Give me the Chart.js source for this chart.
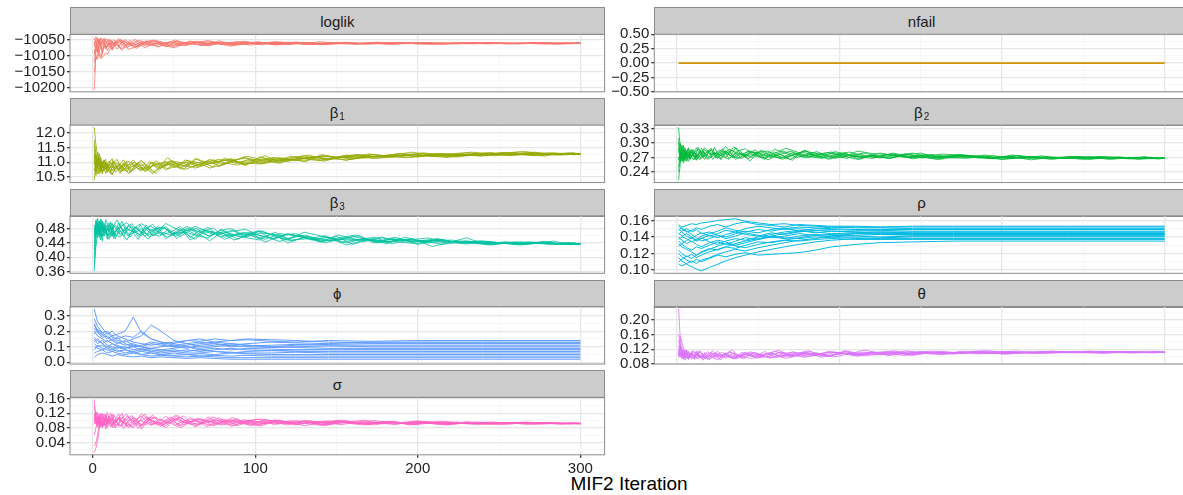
<!DOCTYPE html>
<html>
<head>
<meta charset="utf-8">
<script src="https://cdn.jsdelivr.net/npm/chart.js@4.4.1/dist/chart.umd.min.js"></script>
<style>
  html, body { margin: 0; padding: 0; background: #fff; overflow: hidden; width: 1183px; height: 495px; }
  #wrap { position: relative; width: 1200px; height: 495px; font-family: "Liberation Sans", Arial, sans-serif; }
  canvas.pan { position: absolute; left: 0; top: 0; }
  .strip { position: absolute; box-sizing: border-box; background: #cccccc; border: 1px solid #8c8c8c;
           color: #1a1a1a; font-size: 15px; display: flex; align-items: center; justify-content: center; }
  .strip .sub { display: inline-block; font-size: 10px; position: relative; top: 4px; margin-left: 1px; }
  #xtitle { position: absolute; left: 529px; width: 200px; top: 473px; text-align: center;
            font-size: 19px; color: #000; }
</style>
</head>
<body>
<div id="wrap"><div id="xtitle">MIF2 Iteration</div></div>
<script>
// MIF2 iteration grids the runs were sampled on
const iterA = [1,2,3,4,5,6,7,8, 10,12,14,17,20, 24,28,32,37,42, 48,54,60,67,74, 81,89,97,106,115, 125,135,145,156,167, 178,189,200,212,224, 236,248,260,272,284, 292,300];
const iterB = [1,2,3,4,5,6,7,9, 11,13,16,19,22, 26,30,35,40,45, 51,57,64,71,78, 85,93,102,111,120, 130,140,151,162,173, 184,195,206,218,230, 242,254,266,278,288, 296,300];
const iterC = [1,2,3,4,5,6,8,9, 11,12,15,18,21, 23,27,30,34,39, 44,49,56,63,70, 77,86,94,103,112, 120,131,141,150,160, 170,181,192,203,215, 227,239,251,263,275, 287,300];
const iterD = [1,2,3,4,5,7,8,10, 12,13,16,17,21, 25,29,33,36,41, 46,52,58,65,72, 79,87,95,104,113, 122,133,143,153,164, 175,186,197,209,221, 233,245,257,269,281, 294,300];
const iterSlow = [1,3,6,9,12,15,20,25,30,36,42,50,58,66,75,85,95,110,125,145,170,200,240,300];
const iterFlat = [1,300];

// axis tick labels
const xTicks = [0,100,200,300];
const loglikTicks = [-10200,-10150,-10100,-10050];
const nfailTicks = [-0.5,-0.25,0,0.25,0.5];
const beta1Ticks = [10.5,11.0,11.5,12.0];
const beta2Ticks = [0.24,0.27,0.30,0.33];
const beta3Ticks = [0.36,0.40,0.44,0.48];
const rhoTicks = [0.10,0.12,0.14,0.16];
const phiTicks = [0.0,0.1,0.2,0.3];
const thetaTicks = [0.08,0.12,0.16,0.20];
const sigmaTicks = [0.04,0.08,0.12,0.16];

// log-likelihood traces
const loglikRuns = [
  [-10205,-10090,-10060,-10048,-10055, -10062,-10050,-10058,-10047,-10066, -10052,-10060,-10049,-10063,-10055, -10068,-10052,-10061,-10056,-10065, -10053,-10062,-10057,-10064,-10055, -10061,-10058,-10063,-10056,-10062, -10059,-10057,-10063,-10058,-10061, -10060,-10058,-10062,-10059,-10061, -10060,-10058,-10061,-10059,-10060],
  [-10150,-10100,-10110,-10085,-10070, -10095,-10060,-10072,-10050,-10064, -10045,-10070,-10058,-10075,-10053, -10066,-10060,-10071,-10054,-10068, -10058,-10064,-10052,-10066,-10057, -10063,-10055,-10062,-10058,-10065, -10057,-10061,-10059,-10063,-10058, -10062,-10059,-10061,-10058,-10062, -10060,-10059,-10061,-10060,-10059],
  [-10045,-10058,-10075,-10095,-10108, -10080,-10065,-10052,-10070,-10055, -10078,-10057,-10066,-10050,-10072, -10058,-10067,-10052,-10063,-10056, -10066,-10055,-10061,-10058,-10066, -10056,-10062,-10059,-10064,-10057, -10062,-10060,-10058,-10063,-10059, -10061,-10060,-10062,-10058,-10061, -10059,-10061,-10060,-10061,-10059],
  [-10060,-10048,-10042,-10065,-10055, -10047,-10075,-10058,-10080,-10062, -10055,-10048,-10074,-10061,-10068, -10051,-10064,-10058,-10070,-10055, -10062,-10057,-10067,-10055,-10061, -10058,-10065,-10056,-10061,-10059, -10064,-10058,-10060,-10057,-10062, -10059,-10061,-10060,-10062,-10059, -10061,-10060,-10059,-10061,-10060],
  [-10080,-10110,-10095,-10072,-10060, -10088,-10068,-10078,-10058,-10082, -10062,-10074,-10056,-10068,-10060, -10074,-10062,-10057,-10069,-10060, -10055,-10068,-10059,-10062,-10060, -10066,-10058,-10062,-10057,-10060, -10063,-10059,-10061,-10060,-10058, -10062,-10061,-10059,-10061,-10060, -10062,-10060,-10061,-10059,-10061],
  [-10050,-10040,-10055,-10046,-10068, -10052,-10044,-10063,-10049,-10058, -10070,-10053,-10062,-10048,-10060, -10054,-10072,-10059,-10050,-10062, -10058,-10051,-10063,-10060,-10054, -10060,-10062,-10057,-10063,-10060, -10058,-10062,-10059,-10061,-10060, -10058,-10062,-10060,-10059,-10061, -10060,-10062,-10059,-10060,-10060],
  [-10120,-10075,-10050,-10085,-10100, -10105,-10090,-10095,-10075,-10068, -10060,-10082,-10064,-10058,-10076, -10062,-10055,-10066,-10061,-10072, -10059,-10063,-10068,-10058,-10063, -10061,-10057,-10065,-10060,-10063, -10061,-10058,-10062,-10060,-10063, -10060,-10059,-10062,-10060,-10061, -10059,-10061,-10060,-10062,-10060],
  [-10070,-10052,-10088,-10064,-10046, -10058,-10071,-10069,-10054,-10049, -10063,-10077,-10070,-10057,-10051, -10060,-10066,-10070,-10061,-10053, -10059,-10064,-10066,-10060,-10056, -10057,-10060,-10065,-10063,-10058, -10060,-10062,-10060,-10057,-10059, -10061,-10063,-10060,-10058,-10060, -10061,-10059,-10058,-10060,-10061],
  [-10095,-10062,-10047,-10053,-10078, -10069,-10057,-10046,-10052,-10074, -10068,-10049,-10055,-10067,-10071, -10063,-10050,-10055,-10064,-10067, -10062,-10056,-10055,-10061,-10065, -10062,-10059,-10056,-10059,-10064, -10062,-10060,-10061,-10059,-10057, -10060,-10062,-10061,-10059,-10058, -10060,-10061,-10062,-10060,-10059],
  [-10055,-10085,-10068,-10058,-10043, -10049,-10062,-10083,-10066,-10060, -10051,-10057,-10079,-10072,-10059, -10052,-10057,-10069,-10074,-10058, -10054,-10060,-10062,-10069,-10061, -10055,-10064,-10060,-10061,-10055, -10060,-10063,-10058,-10062,-10061, -10059,-10060,-10058,-10062,-10060, -10059,-10060,-10062,-10061,-10060]
];

// number of filtering failures
const nfailRuns = [[0,0]];

// beta_1 traces
const beta1Runs = [
  [12.18,11.60,11.20,10.95,10.80,10.70,10.85,10.75, 10.95,10.70,10.88,10.62,10.92, 10.75,10.98,10.68,10.90,10.80, 10.95,10.78,11.02,10.88,10.98, 11.08,10.95,11.12,10.99,11.15, 11.05,11.20,11.10,11.24,11.14, 11.22,11.28,11.18,11.25,11.21, 11.30,11.24,11.29,11.22,11.31, 11.26,11.29],
  [10.39,11.00,11.35,11.10,10.90,10.60,10.95,10.65, 10.85,11.05,10.72,10.98,10.60, 10.88,10.70,11.02,10.78,10.95, 10.82,11.08,10.90,11.05,10.86, 11.00,11.18,10.96,11.10,11.02, 11.22,11.08,11.18,11.12,11.27, 11.16,11.24,11.30,11.20,11.27, 11.23,11.32,11.26,11.21,11.30, 11.25,11.28],
  [11.75,11.30,10.80,11.05,10.65,10.90,11.10,10.80, 10.62,10.90,11.10,10.75,11.00, 10.64,10.88,10.95,10.72,11.05, 10.88,10.96,10.76,11.12,10.95, 11.02,11.10,10.88,11.18,11.06, 11.12,11.02,11.26,11.16,11.20, 11.28,11.18,11.23,11.32,11.24, 11.27,11.20,11.33,11.26,11.24, 11.30,11.27],
  [11.20,10.80,10.60,10.75,11.00,10.78,10.62,10.95, 11.12,10.80,10.95,10.66,10.85, 11.08,10.82,10.70,10.98,10.86, 11.15,10.92,11.00,10.84,11.10, 10.94,11.05,11.20,11.08,10.98, 11.16,11.24,11.08,11.18,11.14, 11.20,11.26,11.34,11.22,11.26, 11.34,11.28,11.22,11.30,11.27, 11.32,11.28],
  [11.45,11.05,10.90,10.70,11.15,10.85,10.72,11.00, 10.80,10.58,10.82,10.92,10.70, 10.94,10.78,10.85,10.60,10.92, 11.05,10.86,10.94,11.00,10.84, 11.14,11.00,11.06,11.12,10.96, 11.18,11.14,11.20,11.06,11.22, 11.18,11.24,11.20,11.30,11.26, 11.22,11.28,11.25,11.34,11.27, 11.29,11.26],
  [10.95,11.25,11.05,10.85,10.70,11.02,10.88,10.78, 10.98,10.74,10.88,11.08,10.80, 10.92,11.05,10.80,10.96,10.74, 10.98,10.84,11.12,10.96,11.02, 11.12,10.92,11.04,11.16,11.10, 11.04,11.20,11.16,11.26,11.18, 11.24,11.16,11.22,11.28,11.32, 11.26,11.30,11.36,11.28,11.26, 11.30,11.27],
  [11.05,10.55,10.95,11.20,10.82,10.66,10.79,10.93, 10.70,10.84,10.98,10.88,10.67, 10.82,10.91,11.06,10.85,10.62, 10.90,11.04,10.97,10.80,10.92, 11.10,11.03,10.92,11.05,11.14, 11.08,11.12,11.22,11.18,11.10, 11.26,11.22,11.15,11.24,11.29, 11.22,11.26,11.31,11.35,11.28, 11.24,11.28],
  [11.60,11.10,10.72,10.60,10.88,11.08,10.92,10.70, 10.58,10.68,10.86,10.78,11.04, 10.96,10.72,10.78,11.00,10.92, 10.78,10.86,11.06,10.99,10.80, 10.90,11.08,11.14,10.94,11.06, 11.20,11.09,11.04,11.20,11.25, 11.16,11.20,11.28,11.19,11.23, 11.28,11.33,11.24,11.26,11.32, 11.27,11.29],
  [10.70,10.95,10.82,11.30,11.08,10.80,11.02,10.86, 11.04,10.94,10.66,10.84,10.94, 10.70,10.86,10.92,10.66,10.82, 11.02,10.92,10.84,10.92,11.08, 10.98,10.90,11.02,11.22,11.00, 11.10,11.16,11.12,11.08,11.16, 11.20,11.30,11.24,11.21,11.18, 11.25,11.22,11.28,11.31,11.25, 11.28,11.30],
  [11.30,10.65,11.15,10.92,10.76,10.94,11.06,10.68, 10.88,11.00,10.76,10.70,10.90, 11.00,10.76,10.84,10.94,11.02, 10.86,10.76,10.90,11.04,10.88, 11.05,10.98,10.94,11.02,11.08, 11.14,11.06,11.14,11.22,11.12, 11.18,11.25,11.22,11.16,11.24, 11.30,11.25,11.27,11.24,11.29, 11.31,11.27]
];

// beta_2 traces
const beta2Runs = [
  [.332,.290,.262,.278,.270,.284,.268,.276, .286,.270,.279,.266,.283, .272,.288,.268,.280,.274, .276,.266,.281,.271,.279, .270,.277,.268,.274,.279, .271,.276,.267,.273,.270, .268,.273,.266,.271,.269, .270,.267,.271,.268,.269, .268,.269],
  [.223,.255,.280,.265,.285,.270,.262,.281, .268,.291,.273,.284,.266, .282,.270,.292,.275,.263, .283,.274,.268,.280,.272, .278,.266,.275,.272,.268, .276,.270,.274,.268,.275, .271,.267,.272,.265,.270, .268,.271,.266,.270,.268, .267,.268],
  [.300,.275,.292,.268,.280,.262,.286,.271, .279,.264,.289,.275,.270, .291,.266,.279,.285,.270, .284,.277,.265,.276,.283, .273,.282,.271,.279,.266, .274,.268,.277,.271,.266, .274,.270,.268,.272,.267, .271,.269,.266,.270,.269, .270,.268],
  [.250,.285,.270,.258,.274,.288,.276,.265, .275,.269,.282,.271,.287, .268,.281,.273,.290,.277, .270,.285,.274,.266,.276, .284,.271,.279,.268,.276, .270,.279,.272,.276,.269, .276,.271,.269,.274,.270, .267,.272,.270,.268,.270, .269,.268],
  [.270,.262,.284,.295,.272,.278,.290,.266, .282,.276,.265,.286,.276, .279,.272,.266,.283,.288, .273,.268,.287,.278,.270, .276,.269,.282,.276,.270, .279,.273,.270,.276,.272, .270,.275,.271,.269,.273, .269,.271,.268,.271,.267, .269,.268],
  [.310,.268,.275,.289,.263,.280,.272,.287, .265,.279,.284,.268,.278, .276,.293,.271,.268,.282, .279,.271,.276,.264,.285, .274,.280,.273,.266,.275, .268,.277,.271,.266,.273, .272,.268,.275,.270,.268, .272,.268,.270,.267,.271, .268,.268],
  [.280,.300,.266,.274,.281,.270,.279,.284, .272,.277,.268,.280,.285, .277,.266,.284,.270,.279, .268,.280,.283,.272,.266, .281,.273,.268,.277,.271, .273,.268,.275,.279,.270, .269,.274,.271,.268,.272, .270,.268,.269,.271,.270, .269,.268],
  [.240,.270,.295,.283,.268,.274,.266,.279, .290,.283,.270,.276,.289, .272,.283,.278,.266,.274, .281,.276,.270,.283,.276, .269,.277,.281,.274,.270, .273,.277,.269,.273,.277, .274,.269,.270,.273,.268, .270,.271,.268,.267,.270, .268,.269],
  [.265,.282,.273,.262,.290,.276,.281,.270, .276,.265,.274,.290,.280, .269,.275,.287,.279,.271, .286,.270,.278,.289,.281, .272,.268,.276,.281,.273, .269,.274,.279,.270,.272, .273,.270,.266,.269,.271, .268,.270,.272,.269,.266, .268,.268],
  [.290,.262,.285,.277,.266,.283,.270,.274, .281,.287,.275,.266,.273, .285,.279,.270,.277,.283, .272,.281,.269,.274,.283, .279,.273,.270,.283,.278, .276,.272,.269,.272,.276, .270,.273,.268,.271,.266, .271,.266,.270,.269,.271, .267,.269]
];

// beta_3 traces
const beta3Runs = [
  [.362,.450,.495,.470,.505,.480,.460,.490, .472,.495,.452,.484,.466, .488,.458,.476,.492,.462, .470,.486,.455,.478,.464, .472,.450,.466,.458,.444, .460,.448,.456,.440,.452, .446,.452,.436,.448,.442, .441,.437,.443,.439,.436, .440,.438],
  [.400,.480,.455,.500,.470,.445,.488,.462, .498,.470,.482,.458,.490, .468,.480,.455,.472,.486, .458,.474,.480,.460,.470, .458,.470,.452,.466,.440, .456,.444,.462,.450,.446, .444,.450,.440,.446,.437, .444,.439,.436,.441,.438, .437,.439],
  [.440,.470,.509,.485,.460,.496,.474,.450, .486,.460,.476,.500,.468, .456,.484,.470,.450,.478, .484,.462,.470,.450,.476, .462,.476,.455,.448,.470, .452,.462,.444,.458,.436, .450,.438,.456,.444,.450, .438,.444,.440,.434,.442, .436,.437],
  [.470,.500,.478,.455,.492,.468,.505,.480, .460,.488,.466,.474,.448, .480,.462,.490,.466,.458, .476,.452,.482,.466,.446, .470,.448,.462,.474,.456, .446,.458,.440,.452,.460, .440,.446,.452,.430,.444, .440,.436,.442,.438,.440, .435,.438],
  [.480,.462,.476,.500,.490,.458,.482,.470, .450,.478,.490,.462,.482, .474,.450,.482,.460,.470, .462,.480,.448,.466,.472, .450,.464,.470,.442,.460, .466,.450,.456,.434,.448, .456,.442,.438,.450,.442, .444,.440,.437,.442,.439, .441,.437],
  [.455,.492,.470,.483,.448,.494,.460,.476, .480,.452,.496,.470,.460, .484,.470,.462,.486,.452, .468,.478,.462,.484,.456, .466,.454,.472,.450,.464, .458,.442,.454,.462,.440, .452,.444,.448,.440,.454, .436,.442,.438,.444,.437, .439,.436],
  [.420,.505,.490,.462,.476,.500,.486,.458, .466,.482,.504,.478,.472, .462,.474,.494,.480,.466, .482,.466,.470,.486,.474, .464,.472,.478,.460,.452, .466,.454,.448,.446,.458, .448,.442,.450,.446,.436, .442,.446,.440,.436,.439, .438,.437],
  [.380,.430,.470,.492,.506,.482,.468,.496, .478,.458,.470,.486,.496, .480,.492,.464,.478,.470, .456,.470,.486,.472,.458, .478,.460,.458,.468,.462, .448,.452,.460,.442,.450, .444,.456,.442,.446,.448, .440,.434,.441,.443,.436, .438,.438],
  [.460,.486,.500,.474,.458,.488,.472,.466, .490,.474,.462,.456,.478, .494,.476,.458,.476,.484, .474,.458,.476,.470,.482, .456,.466,.462,.450,.466, .460,.456,.446,.454,.444, .454,.448,.444,.452,.440, .443,.440,.438,.440,.445, .436,.437],
  [.490,.470,.486,.462,.500,.472,.494,.484, .456,.468,.480,.492,.476, .470,.460,.488,.474,.494, .480,.470,.460,.454,.474, .480,.462,.474,.462,.448, .470,.460,.450,.448,.456, .438,.448,.454,.442,.446, .438,.443,.437,.441,.437, .440,.436]
];

// rho traces
const rhoRuns = [
  [.155,.152,.154,.156,.155,.157,.158,.160,.161,.162,.159,.157,.155,.156,.154,.153,.152,.151,.151,.150,.150,.150,.150,.150],
  [.153,.150,.146,.148,.151,.149,.153,.155,.152,.156,.158,.155,.154,.152,.155,.154,.153,.153,.152,.153,.153,.153,.153,.153],
  [.150,.146,.141,.138,.142,.145,.141,.144,.148,.146,.150,.153,.151,.149,.150,.148,.149,.148,.148,.147,.147,.147,.147,.147],
  [.148,.151,.147,.143,.139,.135,.138,.142,.140,.144,.147,.145,.149,.151,.147,.146,.144,.145,.146,.145,.145,.145,.145,.145],
  [.145,.141,.144,.140,.136,.139,.134,.131,.135,.138,.136,.140,.143,.146,.148,.145,.147,.146,.144,.144,.144,.144,.144,.144],
  [.143,.147,.150,.146,.149,.144,.146,.142,.138,.141,.145,.142,.139,.141,.144,.142,.140,.142,.143,.142,.142,.142,.142,.142],
  [.140,.136,.132,.135,.131,.128,.133,.136,.134,.130,.133,.137,.140,.138,.141,.143,.142,.141,.140,.141,.141,.141,.141,.141],
  [.137,.140,.138,.134,.137,.141,.144,.147,.151,.148,.146,.149,.147,.150,.152,.151,.150,.149,.149,.149,.149,.149,.149,.149],
  [.135,.131,.127,.124,.128,.126,.130,.134,.131,.135,.139,.137,.141,.139,.138,.140,.139,.139,.138,.138,.138,.138,.138,.138],
  [.132,.128,.125,.122,.118,.121,.125,.129,.132,.129,.127,.131,.134,.136,.135,.137,.138,.137,.137,.137,.137,.137,.137,.137],
  [.128,.132,.136,.139,.135,.138,.142,.139,.143,.146,.143,.141,.145,.143,.146,.148,.147,.146,.146,.146,.146,.146,.146,.146],
  [.124,.120,.116,.119,.115,.118,.122,.125,.128,.126,.130,.134,.133,.136,.139,.142,.143,.144,.143,.143,.143,.143,.143,.143],
  [.120,.116,.112,.109,.113,.110,.114,.118,.116,.119,.121,.118,.119,.120,.121,.124,.128,.131,.133,.134,.135,.135,.135,.135],
  [.115,.111,.107,.104,.101,.099,.103,.107,.111,.115,.118,.122,.125,.128,.131,.134,.136,.138,.139,.140,.140,.140,.140,.140],
  [.110,.113,.117,.114,.118,.122,.126,.124,.128,.132,.135,.138,.141,.144,.147,.150,.152,.152,.152,.152,.152,.152,.152,.152],
  [.107,.105,.108,.111,.108,.112,.115,.119,.122,.125,.123,.127,.130,.133,.136,.138,.141,.144,.145,.144,.144,.144,.144,.144]
];

// phi traces
const phiRuns = [
  [.340,.260,.220,.180,.200,.170,.150,.130,.120,.110,.120,.130,.140,.135,.150,.140,.145,.135,.130,.140,.135,.140,.140,.140],
  [.280,.230,.190,.200,.170,.180,.200,.290,.190,.150,.130,.110,.120,.130,.120,.110,.120,.130,.125,.120,.130,.130,.130,.130],
  [.240,.200,.180,.150,.170,.140,.130,.150,.170,.240,.200,.140,.120,.100,.110,.120,.110,.100,.110,.115,.120,.120,.120,.120],
  [.220,.190,.160,.170,.140,.120,.140,.110,.100,.120,.110,.100,.090,.110,.120,.100,.105,.110,.115,.110,.110,.110,.110,.110],
  [.200,.170,.150,.130,.150,.130,.110,.120,.100,.090,.100,.110,.100,.090,.100,.110,.100,.095,.100,.105,.100,.100,.100,.100],
  [.180,.210,.190,.160,.140,.160,.120,.100,.110,.130,.120,.100,.110,.120,.130,.120,.110,.100,.095,.090,.090,.090,.090,.090],
  [.160,.140,.120,.140,.120,.100,.090,.100,.080,.090,.080,.090,.100,.080,.090,.080,.090,.085,.080,.085,.085,.085,.085,.085],
  [.150,.120,.140,.110,.100,.090,.100,.080,.090,.070,.080,.070,.080,.070,.080,.090,.080,.075,.080,.080,.080,.080,.080,.080],
  [.130,.150,.120,.100,.120,.110,.090,.110,.100,.080,.070,.080,.070,.080,.070,.060,.070,.075,.070,.070,.070,.070,.070,.070],
  [.120,.100,.110,.090,.080,.100,.080,.070,.080,.070,.060,.070,.060,.060,.070,.065,.060,.060,.065,.060,.060,.060,.060,.060],
  [.100,.090,.080,.100,.090,.070,.080,.060,.070,.060,.050,.060,.050,.055,.050,.060,.055,.050,.050,.050,.050,.050,.050,.050],
  [.080,.110,.090,.080,.070,.080,.060,.070,.050,.060,.050,.045,.050,.040,.045,.040,.045,.040,.040,.040,.040,.040,.040,.040],
  [.060,.070,.080,.060,.070,.060,.050,.060,.050,.040,.045,.040,.035,.040,.035,.030,.030,.030,.030,.030,.030,.030,.030,.030],
  [.030,.050,.060,.050,.040,.050,.040,.035,.040,.030,.035,.030,.025,.030,.025,.020,.020,.020,.020,.020,.020,.020,.020,.020],
  [.250,.200,.170,.190,.160,.150,.170,.160,.200,.150,.130,.120,.140,.150,.130,.140,.150,.145,.140,.130,.125,.125,.125,.125]
];

// theta traces
const thetaRuns = [
  [.231,.150,.118,.100,.110,.095,.112,.098, .108,.094,.116,.101,.092, .110,.097,.114,.100,.106, .112,.099,.115,.104,.109, .116,.103,.112,.107,.118, .109,.113,.106,.115,.110, .112,.108,.114,.111,.109, .113,.111,.114,.112,.111, .112,.112],
  [.100,.155,.140,.125,.105,.118,.092,.106, .096,.112,.090,.105,.116, .095,.108,.093,.112,.102, .098,.110,.101,.113,.106, .104,.114,.108,.102,.111, .114,.108,.111,.105,.113, .110,.114,.109,.112,.110, .111,.114,.110,.113,.111, .111,.112],
  [.145,.125,.104,.115,.096,.108,.100,.114, .092,.106,.100,.094,.110, .102,.091,.106,.118,.096, .104,.095,.109,.117,.100, .109,.106,.100,.115,.105, .111,.104,.116,.108,.112, .107,.111,.116,.110,.113, .110,.113,.111,.110,.113, .111,.112],
  [.120,.108,.098,.092,.114,.100,.108,.094, .112,.098,.108,.096,.104, .114,.100,.098,.104,.094, .108,.103,.096,.108,.112, .100,.106,.113,.108,.104, .107,.116,.109,.112,.106, .114,.110,.112,.115,.111, .113,.110,.112,.114,.111, .112,.111],
  [.110,.098,.112,.108,.090,.104,.096,.110, .100,.116,.098,.108,.096, .104,.112,.098,.094,.110, .101,.114,.097,.102,.104, .110,.098,.105,.110,.102, .106,.110,.103,.111,.107, .110,.113,.107,.109,.114, .111,.112,.110,.111,.114, .112,.112],
  [.130,.115,.095,.103,.099,.109,.115,.097, .103,.093,.104,.113,.098, .106,.096,.110,.100,.113, .106,.096,.104,.100,.111, .107,.101,.110,.104,.113, .103,.108,.113,.110,.108, .115,.108,.111,.109,.113, .112,.115,.112,.110,.112, .113,.111],
  [.160,.135,.110,.096,.106,.112,.101,.093, .104,.110,.097,.103,.112, .098,.104,.108,.095,.101, .110,.106,.099,.112,.104, .101,.110,.103,.113,.108, .112,.106,.109,.114,.111, .108,.113,.110,.107,.112, .114,.111,.112,.110,.113, .111,.112],
  [.105,.128,.106,.118,.100,.093,.104,.116, .106,.101,.094,.111,.099, .091,.103,.112,.106,.098, .095,.103,.110,.098,.108, .112,.101,.104,.116,.107, .110,.112,.105,.109,.114, .110,.107,.114,.112,.110, .112,.113,.111,.114,.110, .112,.112],
  [.115,.104,.126,.099,.108,.117,.095,.103, .114,.105,.098,.102,.092, .108,.099,.104,.098,.112, .100,.108,.105,.095,.102, .114,.106,.099,.108,.112, .105,.111,.114,.107,.110, .112,.116,.108,.112,.109, .111,.113,.110,.112,.113, .110,.112],
  [.098,.112,.100,.106,.119,.102,.097,.109, .099,.114,.106,.092,.108, .100,.110,.095,.107,.104, .097,.101,.112,.106,.098, .103,.112,.109,.101,.110, .108,.103,.110,.113,.109, .111,.108,.113,.110,.115, .112,.110,.113,.111,.112, .113,.112]
];

// sigma traces
const sigmaRuns = [
  [.157,.100,.082,.112,.090,.120,.085,.105, .095,.118,.080,.102,.090, .110,.078,.098,.115,.086, .100,.088,.108,.092,.097, .104,.086,.098,.092,.101, .088,.097,.093,.100,.090, .095,.092,.098,.090,.094, .093,.091,.095,.092,.093, .091,.092],
  [.013,.025,.045,.075,.095,.110,.088,.122, .092,.080,.108,.094,.084, .100,.112,.088,.095,.080, .106,.094,.086,.110,.090, .095,.102,.090,.096,.088, .098,.090,.101,.094,.088, .096,.090,.093,.088,.097, .090,.094,.091,.095,.092, .093,.092],
  [.030,.040,.060,.085,.100,.080,.115,.092, .108,.088,.100,.120,.084, .094,.105,.076,.100,.110, .084,.098,.112,.082,.100, .090,.108,.094,.085,.097, .094,.086,.098,.092,.097, .090,.096,.093,.097,.090, .094,.092,.089,.093,.094, .092,.091],
  [.100,.118,.092,.105,.085,.100,.076,.110, .098,.116,.086,.104,.118, .090,.098,.108,.086,.104, .092,.114,.098,.088,.102, .098,.086,.100,.104,.094, .091,.099,.086,.096,.094, .092,.097,.089,.095,.093, .091,.096,.093,.090,.092, .092,.091],
  [.120,.090,.110,.080,.104,.094,.098,.086, .112,.096,.090,.084,.106, .082,.096,.118,.090,.094, .110,.080,.096,.104,.085, .100,.094,.088,.103,.096, .100,.094,.089,.096,.101, .091,.094,.099,.093,.091, .096,.093,.094,.091,.092, .093,.092],
  [.090,.125,.105,.095,.115,.085,.104,.092, .120,.094,.110,.078,.098, .108,.086,.102,.094,.112, .088,.100,.104,.096,.108, .084,.096,.104,.090,.098, .092,.096,.100,.091,.095, .098,.088,.094,.096,.092, .093,.095,.092,.094,.091, .092,.092],
  [.060,.080,.100,.118,.094,.088,.110,.080, .100,.106,.092,.085,.112, .104,.090,.084,.108,.096, .090,.104,.094,.100,.084, .092,.100,.096,.088,.102, .096,.092,.087,.098,.093, .090,.096,.092,.095,.098, .092,.090,.093,.095,.091, .092,.093],
  [.140,.110,.095,.088,.120,.104,.092,.100, .086,.097,.118,.104,.092, .080,.100,.094,.110,.102, .097,.084,.092,.106,.098, .088,.092,.101,.096,.090, .095,.100,.094,.089,.097, .094,.089,.096,.092,.090, .095,.093,.091,.094,.092, .091,.093],
  [.110,.095,.122,.100,.082,.094,.106,.116, .090,.082,.096,.110,.100, .114,.092,.088,.097,.084, .102,.108,.090,.094,.110, .096,.104,.086,.094,.100, .090,.095,.099,.093,.088, .097,.094,.090,.094,.096, .090,.094,.092,.091,.095, .093,.091],
  [.100,.108,.085,.112,.098,.092,.118,.104, .084,.100,.104,.094,.080, .096,.118,.102,.088,.098, .114,.092,.100,.088,.096, .102,.092,.097,.100,.092, .099,.088,.096,.094,.100, .093,.091,.097,.089,.095, .094,.091,.096,.093,.090, .094,.092]
];

// ---- facet layout ----
const W = 1200, H = 495;
const PANEL_W = 534.6, STRIP_H = 27, PANEL_H = 57.5, ROW_STEP = 90.75;
const COL_LEFT = [70, 654.3];
const rowTop = r => 7.3 + r * ROW_STEP;
const X_MIN = -13.95, X_MAX = 314.95;
const FONT = '"Liberation Sans", Arial, sans-serif';
const MAJOR_GRID = '#e6e6e6', MINOR_GRID = '#f3f3f3';

const noisyGrids = [iterA, iterB, iterC, iterD];
const rotating = i => noisyGrids[i % noisyGrids.length];
const panels = [
  { label: 'loglik', col: 0, row: 0, color: '#F8766D', runs: loglikRuns, grid: rotating, ticks: loglikTicks, dec: 0, min: -10211.7, max: -10031.9, lw: 0.8 },
  { label: 'nfail', col: 1, row: 0, color: '#D39200', runs: nfailRuns, grid: () => iterFlat, ticks: nfailTicks, dec: 2, min: -0.5, max: 0.5, lw: 1.8 },
  { label: 'β<span class="sub">1</span>', col: 0, row: 1, color: '#93AA00', runs: beta1Runs, grid: rotating, ticks: beta1Ticks, dec: 1, min: 10.31, max: 12.26, lw: 0.8 },
  { label: 'β<span class="sub">2</span>', col: 1, row: 1, color: '#00BA38', runs: beta2Runs, grid: rotating, ticks: beta2Ticks, dec: 2, min: 0.218, max: 0.3369, lw: 0.8 },
  { label: 'β<span class="sub">3</span>', col: 0, row: 2, color: '#00C19F', runs: beta3Runs, grid: rotating, ticks: beta3Ticks, dec: 2, min: 0.3555, max: 0.5155, lw: 0.8 },
  { label: 'ρ', col: 1, row: 2, color: '#00B9E3', runs: rhoRuns, grid: () => iterSlow, ticks: rhoTicks, dec: 2, min: 0.096, max: 0.1656, lw: 1 },
  { label: 'ϕ', col: 0, row: 3, color: '#619CFF', runs: phiRuns, grid: () => iterSlow, ticks: phiTicks, dec: 1, min: -0.011, max: 0.358, lw: 1 },
  { label: 'θ', col: 1, row: 3, color: '#DB72FB', runs: thetaRuns, grid: rotating, ticks: thetaTicks, dec: 2, min: 0.0795, max: 0.237, lw: 0.8 },
  { label: 'σ', col: 0, row: 4, color: '#FF61C3', runs: sigmaRuns, grid: rotating, ticks: sigmaTicks, dec: 2, min: 0.0063, max: 0.1636, lw: 0.8, xAxis: true }
];

function minorsOf(majors, lo, hi) {
  const step = majors[1] - majors[0], out = [];
  for (let i = -1; i < majors.length; i++) {
    const v = i < 0 ? majors[0] - step / 2 : majors[i] + step / 2;
    if (v >= lo && v <= hi) out.push(v);
  }
  return out;
}
const isMajor = (v, majors) => majors.some(m => Math.abs(m - v) < 1e-9);
const fmt = (v, dec) => (v < -1e-12 ? '\u2212' : '') + Math.abs(v).toFixed(dec);

const borderPlugin = {
  id: 'panelBorder',
  afterDatasetsDraw(chart) {
    const a = chart.chartArea, c = chart.ctx;
    c.save();
    c.strokeStyle = '#8c8c8c';
    c.lineWidth = 1;
    c.strokeRect(a.left, a.top, a.right - a.left, a.bottom - a.top);
    c.restore();
  }
};

const wrap = document.getElementById('wrap');

function makePanel(p) {
  const left = COL_LEFT[p.col];
  const sTop = rowTop(p.row);
  const top = sTop + STRIP_H;
  const right = left + PANEL_W, bottom = top + PANEL_H;
  const xAxisH = p.xAxis ? 26 : 0;

  const strip = document.createElement('div');
  strip.className = 'strip';
  strip.style.left = left + 'px';
  strip.style.top = sTop + 'px';
  strip.style.width = PANEL_W + 'px';
  strip.style.height = (STRIP_H + 1) + 'px';
  strip.innerHTML = p.label;
  wrap.appendChild(strip);

  const cv = document.createElement('canvas');
  cv.className = 'pan';
  cv.width = W; cv.height = H;
  cv.style.width = W + 'px'; cv.style.height = H + 'px';
  wrap.appendChild(cv);

  const datasets = p.runs.map((run, i) => {
    const g = p.grid(i);
    const n = Math.min(g.length, run.length);
    const pts = [];
    for (let j = 0; j < n; j++) pts.push({ x: g[j], y: run[j] });
    return { data: pts, borderColor: p.color, borderWidth: p.lw, pointRadius: 0, fill: false, tension: 0 };
  });

  const xAll = xTicks.concat(minorsOf(xTicks, X_MIN, X_MAX)).sort((a, b) => a - b);
  const yAll = p.ticks.concat(minorsOf(p.ticks, p.min, p.max)).sort((a, b) => a - b);

  const gridOpts = majors => ({
    color: ctx => (ctx.tick && isMajor(ctx.tick.value, majors)) ? MAJOR_GRID : MINOR_GRID,
    lineWidth: ctx => (ctx.tick && isMajor(ctx.tick.value, majors)) ? 1.3 : 0.7,
    tickLength: 3,
    tickColor: ctx => (ctx.tick && isMajor(ctx.tick.value, majors)) ? '#333333' : 'rgba(0,0,0,0)'
  });

  new Chart(cv, {
    type: 'line',
    data: { datasets },
    options: {
      responsive: false,
      animation: false,
      events: [],
      layout: { padding: { left: left - 70, top: top, right: W - right, bottom: H - bottom - xAxisH } },
      plugins: { legend: { display: false }, tooltip: { enabled: false } },
      scales: {
        x: {
          type: 'linear', min: X_MIN, max: X_MAX,
          afterBuildTicks: s => { s.ticks = xAll.map(v => ({ value: v })); },
          afterFit: s => { s.height = xAxisH; },
          border: { display: false },
          grid: Object.assign(gridOpts(xTicks), { drawTicks: !!p.xAxis }),
          ticks: {
            display: !!p.xAxis, autoSkip: false, maxRotation: 0, padding: 2,
            color: '#222222', font: { size: 15, family: FONT },
            callback: v => isMajor(v, xTicks) ? String(v) : ''
          }
        },
        y: {
          type: 'linear', min: p.min, max: p.max,
          afterBuildTicks: s => { s.ticks = yAll.map(v => ({ value: v })); },
          afterFit: s => { s.width = 70; },
          border: { display: false },
          grid: Object.assign(gridOpts(p.ticks), { drawTicks: true }),
          ticks: {
            autoSkip: false, padding: 2,
            color: '#222222', font: { size: 15, family: FONT },
            callback: v => isMajor(v, p.ticks) ? fmt(v, p.dec) : ''
          }
        }
      }
    },
    plugins: [borderPlugin]
  });
}

panels.forEach(makePanel);
</script>
</body>
</html>
